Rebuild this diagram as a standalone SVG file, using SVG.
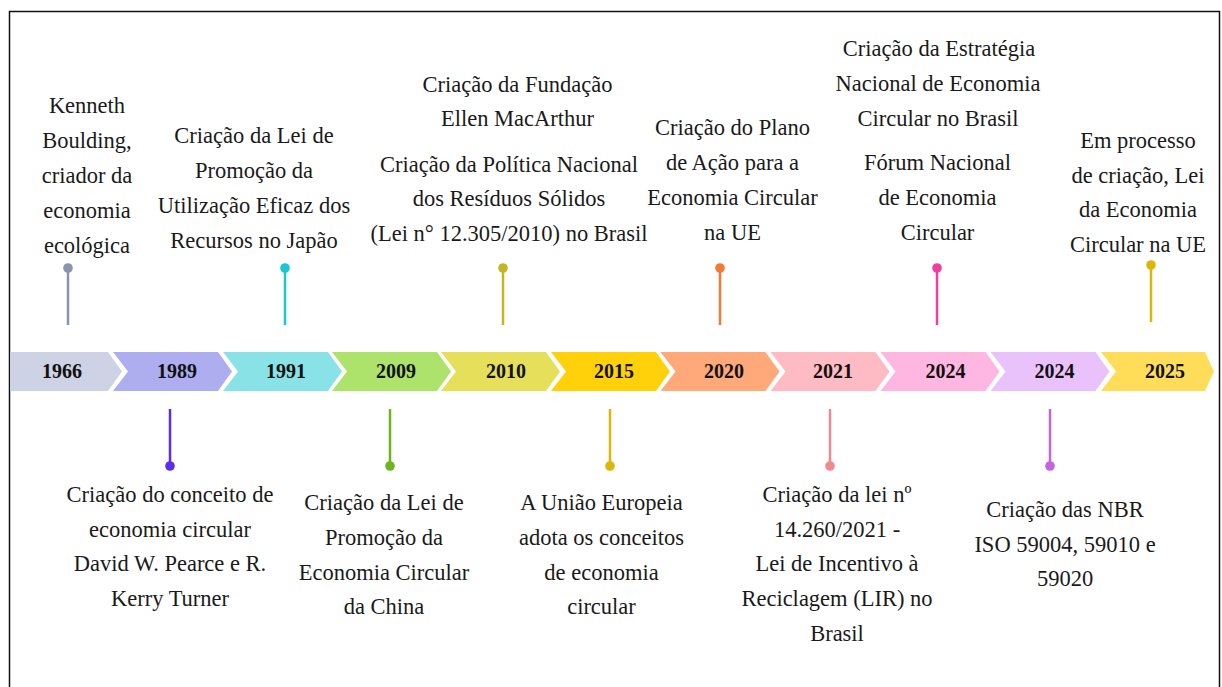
<svg xmlns="http://www.w3.org/2000/svg" width="1222" height="687" viewBox="0 0 1222 687">
<style>
.t{font-size:22.5px;fill:#1a1a1a;text-anchor:middle}
.y{font-size:20px;font-weight:bold;fill:#111;text-anchor:middle}
.pin{stroke-width:2.5;fill:none}
</style>
<rect x="0" y="0" width="1222" height="687" fill="#fff"/>
<rect x="9.5" y="11.5" width="1210" height="720" fill="none" stroke="#111" stroke-width="1.5"/>

<g id="band" font-family="'Liberation Serif', 'Times New Roman', serif">
<polygon points="10,352 108,352 122,371.5 108,391 10,391" fill="#CDD3E4"/>
<polygon points="113,352 218,352 232,371.5 218,391 113,391 128,371.5" fill="#ADADEF"/>
<polygon points="223,352 328,352 342,371.5 328,391 223,391 238,371.5" fill="#89E2E6"/>
<polygon points="332,352 437,352 451,371.5 437,391 332,391 347,371.5" fill="#ADE36B"/>
<polygon points="441,352 546,352 560,371.5 546,391 441,391 456,371.5" fill="#E5DF5A"/>
<polygon points="551,352 656,352 670,371.5 656,391 551,391 566,371.5" fill="#FFD10A"/>
<polygon points="660.5,352 765.5,352 779.5,371.5 765.5,391 660.5,391 675.5,371.5" fill="#FFA87A"/>
<polygon points="770.5,352 875.5,352 889.5,371.5 875.5,391 770.5,391 785.5,371.5" fill="#FFBBC3"/>
<polygon points="880.5,352 985.5,352 999.5,371.5 985.5,391 880.5,391 895.5,371.5" fill="#FFB6E1"/>
<polygon points="990.5,352 1095.5,352 1109.5,371.5 1095.5,391 990.5,391 1005.5,371.5" fill="#EAC2FB"/>
<polygon points="1101,352 1205,352 1214,371.5 1205,391 1101,391 1116,371.5" fill="#FFDD59"/>
<text class="y" x="62" y="378">1966</text>
<text class="y" x="177" y="378">1989</text>
<text class="y" x="286" y="378">1991</text>
<text class="y" x="396" y="378">2009</text>
<text class="y" x="506" y="378">2010</text>
<text class="y" x="614" y="378">2015</text>
<text class="y" x="724" y="378">2020</text>
<text class="y" x="833" y="378">2021</text>
<text class="y" x="945.5" y="378">2024</text>
<text class="y" x="1054.5" y="378">2024</text>
<text class="y" x="1165" y="378">2025</text>
</g>

<g id="connectors">
<line class="pin" x1="68" y1="268" x2="68" y2="325" stroke="#8A94B2"/><circle cx="68" cy="268" r="4.8" fill="#8A94B2"/>
<line class="pin" x1="285" y1="268" x2="285" y2="325" stroke="#1AC7D0"/><circle cx="285" cy="268" r="4.8" fill="#1AC7D0"/>
<line class="pin" x1="503" y1="268" x2="503" y2="325" stroke="#C4B523"/><circle cx="503" cy="268" r="4.8" fill="#C4B523"/>
<line class="pin" x1="720" y1="268" x2="720" y2="325" stroke="#F27A36"/><circle cx="720" cy="268" r="4.8" fill="#F27A36"/>
<line class="pin" x1="937" y1="268" x2="937" y2="325" stroke="#F03FA0"/><circle cx="937" cy="268" r="4.8" fill="#F03FA0"/>
<line class="pin" x1="1151" y1="265" x2="1151" y2="322" stroke="#DDB60A"/><circle cx="1151" cy="265" r="4.8" fill="#DDB60A"/>
<line class="pin" x1="170" y1="409" x2="170" y2="466" stroke="#5B2EEF"/><circle cx="170" cy="466" r="4.8" fill="#5B2EEF"/>
<line class="pin" x1="390" y1="409" x2="390" y2="466" stroke="#6DB51E"/><circle cx="390" cy="466" r="4.8" fill="#6DB51E"/>
<line class="pin" x1="610" y1="409" x2="610" y2="466" stroke="#DDB60A"/><circle cx="610" cy="466" r="4.8" fill="#DDB60A"/>
<line class="pin" x1="830" y1="409" x2="830" y2="466" stroke="#EF8A92"/><circle cx="830" cy="466" r="4.8" fill="#EF8A92"/>
<line class="pin" x1="1050" y1="409" x2="1050" y2="466" stroke="#C263E6"/><circle cx="1050" cy="466" r="4.8" fill="#C263E6"/>
</g>

<g id="labels" font-family="'Liberation Serif', 'Times New Roman', serif">
<g id="n1966">
<text class="t" x="87" y="113">Kenneth</text>
<text class="t" x="87" y="148">Boulding,</text>
<text class="t" x="87" y="183">criador da</text>
<text class="t" x="87" y="218">economia</text>
<text class="t" x="87" y="253">ecológica</text>
</g>
<g id="n1991">
<text class="t" x="254" y="143">Criação da Lei de</text>
<text class="t" x="254" y="178">Promoção da</text>
<text class="t" x="254" y="213">Utilização Eficaz dos</text>
<text class="t" x="254" y="248">Recursos no Japão</text>
</g>
<g id="n2010">
<text class="t" x="517.5" y="92">Criação da Fundação</text>
<text class="t" x="517.5" y="126">Ellen MacArthur</text>
<text class="t" x="509" y="172">Criação da Política Nacional</text>
<text class="t" x="509" y="206">dos Resíduos Sólidos</text>
<text class="t" x="509" y="241">(Lei n° 12.305/2010) no Brasil</text>
</g>
<g id="n2020">
<text class="t" x="732.5" y="135">Criação do Plano</text>
<text class="t" x="732.5" y="170">de Ação para a</text>
<text class="t" x="732.5" y="205">Economia Circular</text>
<text class="t" x="732.5" y="240">na UE</text>
</g>
<g id="n2024a">
<text class="t" x="939" y="56">Criação da Estratégia</text>
<text class="t" x="938" y="91">Nacional de Economia</text>
<text class="t" x="938" y="126">Circular no Brasil</text>
<text class="t" x="937.5" y="170">Fórum Nacional</text>
<text class="t" x="937.5" y="205">de Economia</text>
<text class="t" x="937.5" y="240">Circular</text>
</g>
<g id="n2025">
<text class="t" x="1138" y="148">Em processo</text>
<text class="t" x="1138" y="183">de criação, Lei</text>
<text class="t" x="1138" y="217">da Economia</text>
<text class="t" x="1138" y="252">Circular na UE</text>
</g>
<g id="n1989">
<text class="t" x="170" y="502">Criação do conceito de</text>
<text class="t" x="170" y="537">economia circular</text>
<text class="t" x="170" y="571">David W. Pearce e R.</text>
<text class="t" x="170" y="606">Kerry Turner</text>
</g>
<g id="n2009">
<text class="t" x="384" y="510">Criação da Lei de</text>
<text class="t" x="384" y="545">Promoção da</text>
<text class="t" x="384" y="580">Economia Circular</text>
<text class="t" x="384" y="614">da China</text>
</g>
<g id="n2015">
<text class="t" x="601.5" y="510">A União Europeia</text>
<text class="t" x="601.5" y="545">adota os conceitos</text>
<text class="t" x="601.5" y="580">de economia</text>
<text class="t" x="601.5" y="614">circular</text>
</g>
<g id="n2021">
<text class="t" x="837" y="502">Criação da lei nº</text>
<text class="t" x="837" y="537">14.260/2021 -</text>
<text class="t" x="837" y="571">Lei de Incentivo à</text>
<text class="t" x="837" y="606">Reciclagem (LIR) no</text>
<text class="t" x="837" y="641">Brasil</text>
</g>
<g id="n2024b">
<text class="t" x="1065" y="517">Criação das NBR</text>
<text class="t" x="1065" y="552">ISO 59004, 59010 e</text>
<text class="t" x="1065" y="586">59020</text>
</g>
</g>
</svg>
